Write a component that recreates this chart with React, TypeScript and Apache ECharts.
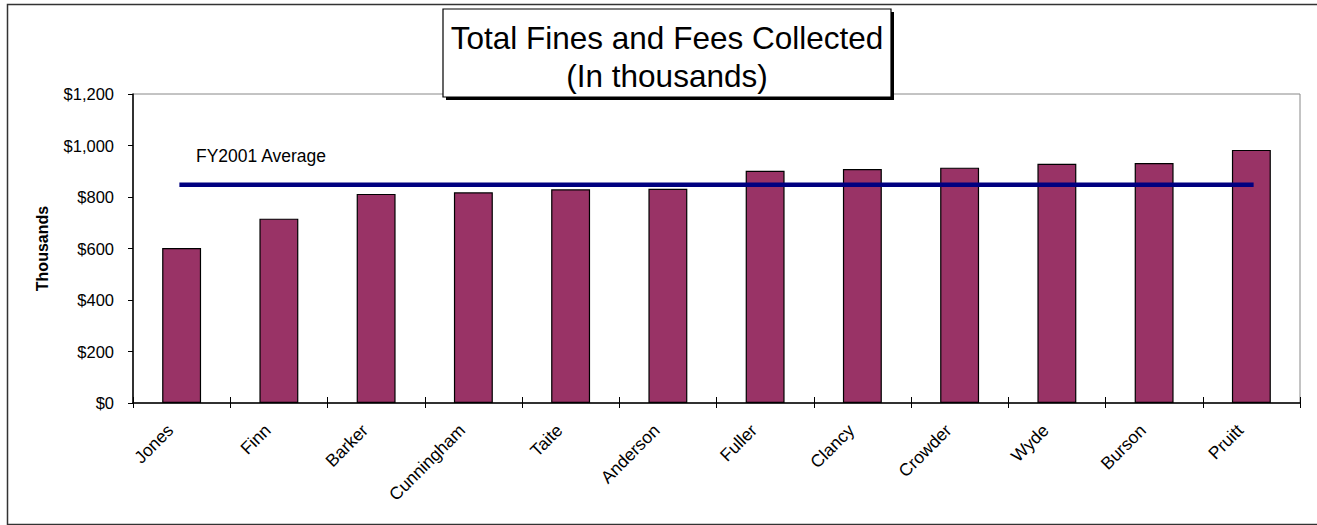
import React, { useEffect, useRef } from "react";
import * as echarts from "echarts";

const categories = ["Jones", "Finn", "Barker", "Cunningham", "Taite", "Anderson", "Fuller", "Clancy", "Crowder", "Wyde", "Burson", "Pruitt"];
const collected = [602, 716, 812, 818, 830, 832, 902, 909, 914, 929, 932, 983];
const averageValue = 848;
const average = categories.map(() => averageValue);
const titleLines = ["Total Fines and Fees Collected", "(In thousands)"];
const yTicks = { min: 0, max: 1200, interval: 200 };

const FONT = "'Liberation Sans', Arial, sans-serif";

export default function App() {
  const ref = useRef<HTMLDivElement>(null);
  useEffect(() => {
    if (!ref.current) return;
    const chart = echarts.init(ref.current, null, { renderer: "svg" });
    chart.setOption({
      animation: false,
      backgroundColor: "#ffffff",
      textStyle: { fontFamily: FONT },
      grid: {
        left: 133,
        right: 17,
        top: 94,
        bottom: 122,
        show: true,
        borderColor: "#888888",
        borderWidth: 1,
        backgroundColor: "transparent",
      },
      xAxis: [
        {
          type: "category",
          data: categories,
          boundaryGap: true,
          axisLine: { show: true, lineStyle: { color: "#000", width: 1.5 } },
          axisTick: { show: true, inside: false, length: 5, lineStyle: { color: "#000" } },
          axisLabel: {
            rotate: 45,
            margin: 13,
            padding: [0, 16, 0, 0],
            color: "#000",
            fontSize: 17.5,
            fontFamily: FONT,
            interval: 0,
          },
        },
        {
          type: "category",
          data: categories,
          position: "bottom",
          boundaryGap: true,
          axisLine: { show: false },
          axisTick: { show: true, inside: true, length: 6, lineStyle: { color: "#000" } },
          axisLabel: { show: false },
        },
      ],
      yAxis: {
        type: "value",
        min: yTicks.min,
        max: yTicks.max,
        interval: yTicks.interval,
        splitLine: { show: false },
        axisLine: { show: true, lineStyle: { color: "#000", width: 1.5 } },
        axisTick: { show: true, inside: false, length: 5, lineStyle: { color: "#000" } },
        axisLabel: {
          margin: 19,
          color: "#000",
          fontSize: 16.5,
          fontFamily: FONT,
          formatter: (v: number) => "$" + v.toLocaleString("en-US"),
        },
        name: "Thousands",
        nameLocation: "middle",
        nameGap: 83,
        nameRotate: 90,
        nameTextStyle: { color: "#000", fontSize: 16, fontWeight: "bold", fontFamily: FONT },
      },
      series: [
        {
          type: "bar",
          name: "Collected",
          data: collected,
          barWidth: "40%",
          itemStyle: { color: "#993366", borderColor: "#000", borderWidth: 1.2 },
          z: 2,
        },
        {
          type: "line",
          name: "FY2001 Average",
          data: average,
          symbol: "none",
          lineStyle: { color: "#000080", width: 4.5, cap: "square" },
          z: 3,
        },
      ],
      graphic: [
        {
          type: "rect",
          shape: { x: 0, y: 0, width: 1400, height: 520 },
          left: 5,
          top: 2,
          style: { fill: "none", stroke: "#333", lineWidth: 1.5 },
          silent: true,
          z: 0,
        },
        {
          type: "text",
          left: 196,
          top: 147,
          style: { text: "FY2001 Average", fill: "#000", font: "17.5px " + FONT },
          z: 10,
        },
        {
          type: "rect",
          shape: { x: 446, y: 12, width: 448, height: 88 },
          style: { fill: "#000" },
          z: 10,
        },
        {
          type: "rect",
          shape: { x: 443, y: 9, width: 448, height: 88 },
          style: { fill: "#fff", stroke: "#000", lineWidth: 1.2 },
          z: 11,
        },
        {
          type: "text",
          x: 667,
          y: 38,
          style: { text: titleLines[0], fill: "#000", font: "31.5px " + FONT, textAlign: "center", textVerticalAlign: "middle" },
          z: 12,
        },
        {
          type: "text",
          x: 667,
          y: 76,
          style: { text: titleLines[1], fill: "#000", font: "31.5px " + FONT, textAlign: "center", textVerticalAlign: "middle" },
          z: 12,
        },
      ],
    });
    return () => chart.dispose();
  }, []);
  return <div ref={ref} style={{ position: "fixed", left: 0, top: 0, width: 1317, height: 525 }} />;
}
